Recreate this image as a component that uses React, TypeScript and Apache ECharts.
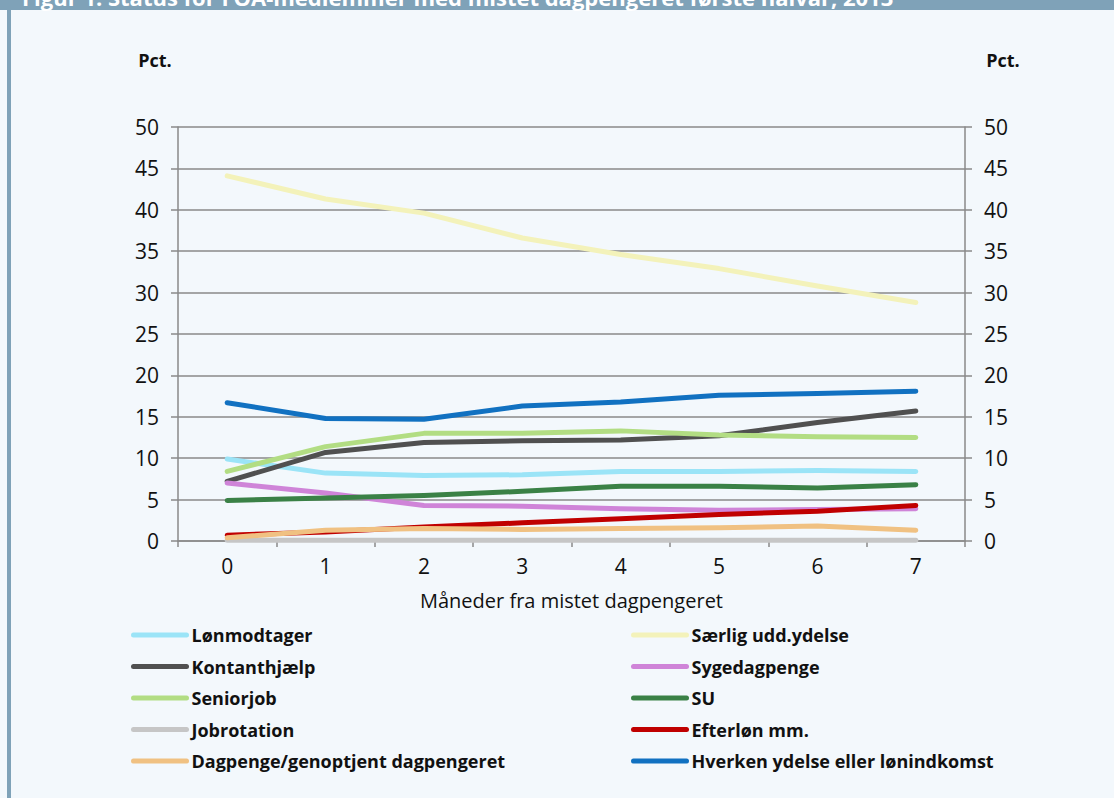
import React, { useEffect, useRef } from "react";
import * as echarts from "echarts";

const months = ["0", "1", "2", "3", "4", "5", "6", "7"];
const seriesNames = [
  "Lønmodtager",
  "Særlig udd.ydelse",
  "Kontanthjælp",
  "Sygedagpenge",
  "Seniorjob",
  "SU",
  "Jobrotation",
  "Efterløn mm.",
  "Dagpenge/genoptjent dagpengeret",
  "Hverken ydelse eller lønindkomst",
];
const seriesColors = [
  "#9BE4F7",
  "#F3F2BA",
  "#505050",
  "#CF84D8",
  "#B2DD83",
  "#3A8146",
  "#C6C6C6",
  "#C00000",
  "#F0C182",
  "#1171C1",
];
const lonmodtager = [9.9, 8.2, 7.9, 8.0, 8.4, 8.4, 8.5, 8.4];
const saerligUdd = [44.1, 41.3, 39.6, 36.6, 34.6, 32.9, 30.8, 28.8];
const kontanthjaelp = [7.2, 10.7, 11.9, 12.1, 12.2, 12.7, 14.3, 15.7];
const sygedagpenge = [7.0, 5.8, 4.3, 4.2, 3.9, 3.7, 3.8, 3.9];
const seniorjob = [8.4, 11.4, 13.0, 13.0, 13.3, 12.8, 12.6, 12.5];
const su = [4.9, 5.2, 5.5, 6.0, 6.6, 6.6, 6.4, 6.8];
const jobrotation = [0.1, 0.1, 0.1, 0.1, 0.1, 0.1, 0.1, 0.1];
const efterlon = [0.7, 1.1, 1.7, 2.2, 2.7, 3.2, 3.6, 4.3];
const dagpenge = [0.4, 1.3, 1.5, 1.4, 1.5, 1.6, 1.8, 1.3];
const hverken = [16.7, 14.8, 14.7, 16.3, 16.8, 17.6, 17.8, 18.1];
const seriesData = [
  lonmodtager,
  saerligUdd,
  kontanthjaelp,
  sygedagpenge,
  seniorjob,
  su,
  jobrotation,
  efterlon,
  dagpenge,
  hverken,
];
const yTicks = { min: 0, max: 50, interval: 5 };
const titleText =
  "Figur 1. Status for FOA-medlemmer med mistet dagpengeret første halvår, 2013";
const xAxisTitle = "Måneder fra mistet dagpengeret";
const unitLabel = "Pct.";

const FONT = "'Open Sans', Lato, sans-serif";
const AXIS_GRAY = "#8A8A8A";

export default function App() {
  const ref = useRef<HTMLDivElement>(null);
  useEffect(() => {
    document.body.style.margin = "0";
    if (!ref.current) return;
    const chart = echarts.init(ref.current, null, { renderer: "svg" });
    const leftNames = seriesNames.filter((_, i) => i % 2 === 0);
    const rightNames = seriesNames.filter((_, i) => i % 2 === 1);
    const legendCommon = {
      orient: "vertical" as const,
      top: 624,
      padding: 0,
      itemWidth: 53,
      itemHeight: 14,
      itemGap: 9.5,
      textStyle: {
        fontFamily: FONT,
        fontSize: 18,
        fontWeight: "bold" as const,
        color: "#111",
        lineHeight: 22,
      },
      itemStyle: { opacity: 0 },
      lineStyle: { width: 5, cap: "round" as const },
      selectedMode: false as const,
    };
    const yAxisCommon = {
      type: "value" as const,
      min: yTicks.min,
      max: yTicks.max,
      interval: yTicks.interval,
      axisLine: { show: true, lineStyle: { color: AXIS_GRAY, width: 1.5 } },
      axisTick: { show: true, length: 7, lineStyle: { color: AXIS_GRAY, width: 1.5 } },
      axisLabel: { fontFamily: FONT, fontSize: 21, color: "#111", margin: 19 },
    };
    chart.setOption({
      animation: false,
      backgroundColor: "#F3F8FC",
      graphic: [
        { type: "rect", shape: { x: 0, y: 0, width: 1114, height: 10 }, style: { fill: "#7FA2B8" }, silent: true },
        { type: "rect", shape: { x: 7, y: 0, width: 4, height: 798 }, style: { fill: "#7FA2B8" }, silent: true },
        {
          type: "text",
          x: 22,
          y: -14,
          style: { text: titleText, fill: "#fff", font: `bold 22px ${FONT}` },
          silent: true,
        },
        {
          type: "text",
          x: 155,
          y: 60,
          style: { text: unitLabel, fill: "#111", font: `bold 18px ${FONT}`, align: "center", verticalAlign: "middle" },
        },
        {
          type: "text",
          x: 1003,
          y: 60,
          style: { text: unitLabel, fill: "#111", font: `bold 18px ${FONT}`, align: "center", verticalAlign: "middle" },
        },
      ],
      legend: [
        { ...legendCommon, left: 131, data: leftNames },
        { ...legendCommon, left: 631, data: rightNames },
      ],
      grid: { left: 178, right: 149, top: 127, bottom: 257, containLabel: false },
      xAxis: {
        type: "category",
        data: months,
        boundaryGap: true,
        name: xAxisTitle,
        nameLocation: "middle",
        nameGap: 49,
        nameTextStyle: { fontFamily: FONT, fontSize: 20, color: "#111" },
        axisLine: { show: true, lineStyle: { color: AXIS_GRAY, width: 1.5 } },
        axisTick: { show: true, interval: 0, length: 6, lineStyle: { color: AXIS_GRAY, width: 1.5 } },
        axisLabel: { fontFamily: FONT, fontSize: 21, color: "#111", margin: 14 },
      },
      yAxis: [
        {
          ...yAxisCommon,
          position: "left",
          splitLine: { show: true, lineStyle: { color: AXIS_GRAY, width: 1.5 } },
        },
        {
          ...yAxisCommon,
          position: "right",
          splitLine: { show: false },
        },
      ],
      series: seriesNames.map((name, i) => ({
        name,
        type: "line",
        yAxisIndex: 0,
        data: seriesData[i],
        symbol: "none",
        color: seriesColors[i],
        lineStyle: { width: 5, color: seriesColors[i], cap: "round", join: "round" },
        z: 2 + i,
      })),
    });
    return () => chart.dispose();
  }, []);
  return <div ref={ref} style={{ width: 1114, height: 798 }} />;
}
